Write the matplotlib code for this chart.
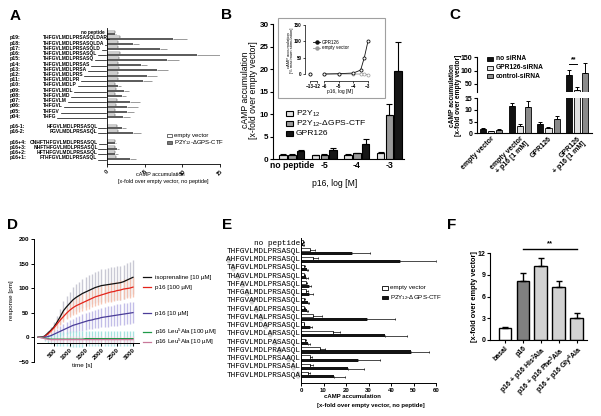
import numpy as np
import matplotlib
matplotlib.use('Agg')
import matplotlib.pyplot as plt
from matplotlib.patches import Rectangle, Ellipse
from matplotlib.transforms import blended_transform_factory as blend

W, H = 601, 416
plt.rcParams['font.family'] = ['Liberation Sans', 'DejaVu Sans']
plt.rcParams['font.weight'] = 'bold'
plt.rcParams['axes.linewidth'] = 0.8
plt.rcParams['mathtext.default'] = 'regular'

# ---------------- data ----------------
# Panel A
A_groups = [17, 2, 4]
A_names = ["", "p19:", "p18:", "p17:", "p16:", "p15:", "p14:", "p13:", "p12:", "p11:", "p10:",
           "p09:", "p08:", "p07:", "p06:", "p05:", "p04:", "p16-1:", "p16-2:",
           "p16+4:", "p16+3:", "p16+2:", "p16+1:"]
A_seqs = ["no peptide", "THFGVLMDLPRSASQLDAR", "THFGVLMDLPRSASQLDA", "THFGVLMDLPRSASQLD",
          "THFGVLMDLPRSASQL", "THFGVLMDLPRSASQ", "THFGVLMDLPRSAS", "THFGVLMDLPRSA",
          "THFGVLMDLPRS", "THFGVLMDLPR", "THFGVLMDLP", "THFGVLMDL", "THFGVLMD", "THFGVLM",
          "THFGVL", "THFGV", "THFG", "HFGVLMDLPRSASQL", "FGVLMDLPRSASQL",
          "CNHFTHFGVLMDLPRSASQL", "NHFTHFGVLMDLPRSASQL", "HFTHFGVLMDLPRSASQL", "FTHFGVLMDLPRSASQL"]
A_ev = [1.0, 1.7, 1.5, 1.5, 1.7, 1.6, 1.5, 1.6, 1.5, 1.5, 1.0, 1.2, 1.1, 1.3, 1.2, 1.1, 1.0,
        1.3, 1.4, 1.0, 1.1, 1.0, 1.2]
A_ctf = [1.0, 8.7, 3.5, 7.1, 12.0, 8.0, 4.5, 6.6, 5.3, 4.8, 1.4, 2.3, 2.0, 3.0, 2.7, 2.6, 2.1,
         2.0, 3.5, 1.0, 1.3, 1.1, 3.1]
A_ctf_err = [0.2, 1.9, 0.7, 0.8, 3.2, 1.6, 0.8, 1.5, 1.3, 1.2, 0.5, 0.6, 0.5, 1.4, 1.4, 1.0, 1.0,
             0.5, 1.0, 0.2, 0.3, 0.3, 0.8]

# Panel B
B_groups = ["no peptide", "-5", "-4", "-3"]
B_series = ["P2Y$_{12}$", "P2Y$_{12}$-$\\Delta$GPS-CTF", "GPR126"]
B_vals = [[1.0, 0.9, 1.0, 1.5], [1.0, 1.0, 1.3, 9.8], [1.8, 2.1, 3.5, 19.7]]
B_err = [[0.1, 0.1, 0.1, 0.1], [0.1, 0.1, 0.2, 2.5], [0.2, 0.4, 1.0, 6.4]]
B_colors = ["#e2e2e2", "#9a9a9a", "#161616"]
# inset
Bi_x = [-13, -6, -5, -4, -3.5, -3.25, -3]
Bi_gpr = [0, 0, 1, 3, 12, 50, 100]
Bi_ev = [0, 0, 0, 0, 0, -1, -2]

# Panel C
C_groups = ["empty vector", "empty vector\n+ p16 [1 mM]", "GPR126", "GPR126\n+ p16 [1 mM]"]
C_series = ["no siRNA", "GPR126-siRNA", "control-siRNA"]
C_vals = [[1.8, 11.5, 3.9, 82], [0.8, 3.3, 2.4, 27], [1.3, 11.2, 6.2, 91]]
C_err = [[0.6, 1.7, 0.8, 20], [0.2, 0.5, 0.4, 10], [0.4, 2.8, 1.3, 37]]
C_colors = ["#111111", "#e0e0e0", "#8a8a8a"]

# Panel D
D_time = [0, 100, 200, 300, 400, 500, 600, 700, 800, 900, 1000, 1100, 1200, 1300, 1400, 1500,
          1600, 1700, 1800, 1900, 2000, 2100, 2200, 2300, 2400, 2500, 2600, 2700, 2800, 2900, 3000]
D_iso = [0, 0, 2, 8, 14, 21, 31, 42, 54, 62, 69, 76, 81, 85, 89, 92, 95, 98, 101, 103, 105, 106,
         107, 108, 109, 110, 111, 113, 116, 119, 122]
D_iso_err = [0, 1, 2, 4, 7, 10, 13, 16, 19, 22, 24, 26, 27, 28, 29, 30, 31, 31, 32, 32, 33, 33,
             33, 34, 34, 34, 35, 35, 35, 35, 35]
D_p100 = [0, 0, 1, 6, 12, 19, 27, 35, 42, 49, 55, 60, 64, 67, 70, 73, 76, 79, 82, 84, 86, 88,
          90, 92, 93, 95, 96, 98, 99, 100, 102]
D_p100_err = [0, 1, 2, 3, 5, 7, 9, 11, 12, 13, 14, 15, 16, 16, 17, 17, 18, 18, 18, 19, 19, 19,
              19, 20, 20, 20, 20, 20, 20, 20, 20]
D_p10 = [0, 0, 0, 1, 3, 6, 9, 12, 15, 18, 21, 24, 26, 28, 30, 32, 34, 35, 37, 38, 40, 41, 42,
         43, 44, 45, 46, 47, 48, 49, 50]
D_p10_err = [0, 1, 2, 3, 4, 6, 8, 10, 11, 12, 13, 14, 15, 16, 17, 18, 18, 19, 19, 20, 20, 21,
             21, 21, 22, 22, 22, 22, 22, 22, 22]
D_l100 = [0, 0, -2, -3, -4, -4, -4, -4, -4, -4, -4, -4, -4, -4, -4, -3, -3, -3, -3, -3, -3, -3,
          -3, -3, -3, -3, -3, -3, -3, -3, -3]
D_l100_err = [0, 2, 5, 8, 10, 12, 13, 14, 15, 15, 16, 16, 16, 16, 16, 16, 16, 16, 16, 16, 16,
              16, 16, 16, 16, 16, 16, 16, 16, 16, 16]
D_l10 = [0, -1, -3, -4, -5, -5, -5, -5, -5, -5, -5, -5, -5, -5, -5, -5, -5, -5, -5, -5, -5, -5,
         -5, -5, -5, -5, -5, -5, -5, -5, -5]
D_l10_err = [0, 1, 2, 3, 4, 5, 6, 6, 7, 7, 7, 8, 8, 8, 8, 8, 8, 8, 8, 8, 8, 8, 8, 8, 8, 8, 8,
             8, 8, 8, 8]
D_labels = ["isoprenaline [10 \u00b5M]", "p16 [100 \u00b5M]", "p16 [10 \u00b5M]",
            "p16 Leu$^5$Ala [100 \u00b5M]", "p16 Leu$^5$Ala [10 \u00b5M]"]
D_colors = ["#111111", "#e3231b", "#4a3c98", "#1f9a48", "#c8789a"]
D_band = ["#c3c3d0", "#f6c0ac", "#bdb7e6", "#9fe0de", "#f1c6d8"]

# Panel E
E_seqs = ["no peptide", "THFGVLMDLPRSASQL", "AHFGVLMDLPRSASQL", "TAFGVLMDLPRSASQL",
          "THAGVLMDLPRSASQL", "THFAVLMDLPRSASQL", "THFGALMDLPRSASQL", "THFGVAMDLPRSASQL",
          "THFGVLADLPRSASQL", "THFGVLMALPRSASQL", "THFGVLMDAPRSASQL", "THFGVLMDLARSASQL",
          "THFGVLMDLPASASQL", "THFGVLMDLPRAASQL", "THFGVLMDLPRSAAQL", "THFGVLMDLPRSASAL",
          "THFGVLMDLPRSASQA"]
E_ev = [1.0, 4.1, 5.5, 1.5, 1.5, 2.0, 2.0, 1.5, 1.5, 5.5, 1.2, 14.2, 1.8, 8.4, 4.0, 4.0, 3.3]
E_ev_err = [0.3, 2.2, 2.2, 0.3, 0.3, 0.5, 1.0, 0.3, 0.3, 3.7, 0.3, 3.1, 0.4, 2.3, 1.0, 1.5, 0.7]
E_ctf = [1.0, 22.5, 44.0, 2.7, 2.4, 3.5, 3.5, 3.0, 2.5, 29.2, 4.0, 37.3, 3.0, 49.0, 25.5, 21.0, 14.5]
E_ctf_err = [0.3, 8.3, 16.0, 0.5, 0.5, 1.0, 2.0, 0.6, 0.5, 12.6, 1.0, 10.0, 1.0, 8.0, 9.5, 7.0, 5.1]

# Panel F
F_labels = ["basal", "p16", "p16 + p16 His$^2$Ala", "p16 + p16 Phe$^3$Ala", "p16 + p16 Gly$^4$Ala"]
F_vals = [1.6, 8.1, 10.2, 7.4, 3.1]
F_err = [0.2, 1.2, 1.2, 0.8, 0.7]
F_colors = ["white", "#808080", "#d2d2d2", "#d2d2d2", "#d2d2d2"]

# ---------------- figure ----------------
fig = plt.figure(figsize=(W / 100, H / 100), dpi=100)


def pax(l, t, r, b):
    return fig.add_axes([l / W, 1 - b / H, (r - l) / W, (b - t) / H])


def prism(ax, fs, lw=0.8):
    for s in ['top', 'right']:
        ax.spines[s].set_visible(False)
    for s in ['left', 'bottom']:
        ax.spines[s].set_linewidth(lw)
    ax.tick_params(direction='out', length=2.2, width=lw, labelsize=fs, pad=1.2)
    ax.patch.set_alpha(0)


# ---- Panel A ----
axA = pax(107, 28, 220, 164)
prism(axA, 4, 0.6)
slots = []
s = 0
for g in A_groups:
    for j in range(g):
        slots.append(s)
        s += 1
    s += 1
slots = np.array(slots, dtype=float)
nA = len(slots)
axA.set_ylim(25.15, -0.9)
axA.set_xlim(0, 15)
axA.barh(slots - 0.2, A_ev, height=0.38, color='white', edgecolor='#333', lw=0.35)
axA.barh(slots + 0.2, A_ctf, height=0.38, color='#5e5e5e', lw=0)
axA.errorbar(A_ctf, slots + 0.2, xerr=[np.zeros(nA), A_ctf_err], fmt='none', ecolor='#9a9a9a',
             elinewidth=0.7, capsize=0)
axA.set_yticks([])
axA.set_xticks([0, 5, 10, 15])
axA.set_xticklabels(["0", "5", "10", "15"], rotation=45, fontsize=4)

# ---- Panel B ----
axB = pax(272.7, 24.3, 404, 159.3)
prism(axB, 5.8)
axB.set_ylim(0, 30)
axB.set_xlim(-0.59, 3.45)
xb = np.arange(len(B_groups))
for k in range(3):
    off = (k - 1) * 0.27
    axB.bar(xb + off, B_vals[k], width=0.23, color=B_colors[k], edgecolor='k', lw=0.8)
    axB.errorbar(xb + off, B_vals[k], yerr=[np.zeros(4), B_err[k]], fmt='none', ecolor='k',
                 elinewidth=0.8, capsize=2, capthick=0.8)
axB.set_xticks(xb)
axB.set_xticklabels(B_groups, fontsize=6.2)
axB.set_yticks([0, 5, 10, 15, 20, 25, 30])
axB.tick_params(axis='x', length=0)
axB.tick_params(axis='y', pad=0.8)

# inset (broken x axis)
bi1 = pax(305, 25, 320, 75)
bi2 = pax(322, 25, 370, 75)
for a in (bi1, bi2):
    prism(a, 3.3, 0.5)
    a.set_ylim(-3, 150)
    a.spines['bottom'].set_position(('outward', 4))
    a.tick_params(length=1.5, pad=0.8)
bi1.set_xlim(-13.7, -11.57)
bi2.set_xlim(-6.14, -2.86)
bi1.spines['bottom'].set_bounds(-13, -12)
bi2.spines['bottom'].set_bounds(-6, -3)
bi1.spines['left'].set_bounds(0, 150)
bi1.set_yticks([0, 50, 100, 150])
bi1.set_xticks([-13, -12])
bi2.set_xticks([-6, -5, -4, -3])
bi2.spines['left'].set_visible(False)
bi2.set_yticks([])
bx = np.array(Bi_x)
for a, msk in ((bi1, bx <= -12), (bi2, bx >= -6)):
    a.plot(bx[msk], np.array(Bi_ev)[msk], '-o', color='#999999', ms=2.2, lw=0.6, mfc='white',
           mew=0.5, clip_on=False)
    a.plot(bx[msk], np.array(Bi_gpr)[msk], '-o', color='#111111', ms=2.2, lw=0.6, mfc='white',
           mew=0.6, clip_on=False)

# ---- Panel C ----
axCu = pax(477.3, 57.3, 592, 91.7)
axCl = pax(477.3, 98.3, 592, 133.3)
xc = np.arange(len(C_groups))
for a, yl in ((axCu, (21, 150)), (axCl, (0, 15))):
    prism(a, 5)
    a.set_ylim(*yl)
    a.set_xlim(-0.47, 3.51)
    for k in range(3):
        off = (k - 1) * 0.28
        a.bar(xc + off, C_vals[k], width=0.21, color=C_colors[k], edgecolor='k', lw=0.6)
        a.errorbar(xc + off, C_vals[k], yerr=[np.zeros(4), C_err[k]], fmt='none', ecolor='k',
                   elinewidth=0.7, capsize=1.5, capthick=0.7)
axCu.spines['bottom'].set_visible(False)
axCu.set_xticks([])
axCu.set_yticks([50, 100, 150])
axCl.set_yticks([0, 5, 10, 15])
axCl.set_xticks(xc)
axCl.set_xticklabels(C_groups, rotation=45, ha='right', rotation_mode='anchor', fontsize=5,
                     linespacing=1.0)
axCl.tick_params(axis='x', length=0)
axCu.plot([xc[3] - 0.28, xc[3]], [125, 125], color='k', lw=0.7)
axCu.text(xc[3] - 0.14, 127, "**", ha='center', va='bottom', fontsize=5)

# ---- Panel D ----
axD = pax(34, 239, 139.3, 361.7)
prism(axD, 4.5, 0.7)
axD.set_ylim(-50, 200)
axD.set_xlim(-133, 3200)
axD.spines['bottom'].set_position(('data', -12))
axD.spines['bottom'].set_bounds(-50, 3200)
t = np.array(D_time)
series = [(D_iso, D_iso_err), (D_p100, D_p100_err), (D_p10, D_p10_err),
          (D_l100, D_l100_err), (D_l10, D_l10_err)]
for k, (m, e) in enumerate(series):
    m = np.array(m, float)
    e = np.array(e, float)
    axD.vlines(t, m - e, m + e, color=D_band[k], lw=1.0, alpha=0.9, zorder=1)
for k, (m, e) in enumerate(series):
    axD.plot(t, m, color=D_colors[k], lw=0.9, zorder=3)
axD.set_yticks([-50, 0, 50, 100, 150, 200])
axD.set_xticks([500, 1000, 1500, 2000, 2500, 3000])
axD.set_xticklabels(["500", "1000", "1500", "2000", "2500", "3000"], rotation=45, ha='right',
                    rotation_mode='anchor', fontsize=4.5)

# ---- Panel E ----
axE = pax(301, 238, 436, 383)
prism(axE, 4.3, 0.7)
nE = len(E_seqs)
ye = np.arange(nE)
axE.set_ylim(16.96, -0.64)
axE.set_xlim(0, 60)
axE.barh(ye - 0.2, E_ev, height=0.38, color='white', edgecolor='k', lw=0.5)
axE.barh(ye + 0.2, E_ctf, height=0.38, color='#141414', lw=0)
axE.errorbar(E_ev, ye - 0.2, xerr=[np.zeros(nE), E_ev_err], fmt='none', ecolor='k',
             elinewidth=0.5, capsize=1.0, capthick=0.5)
axE.errorbar(E_ctf, ye + 0.2, xerr=[np.zeros(nE), E_ctf_err], fmt='none', ecolor='k',
             elinewidth=0.5, capsize=1.0, capthick=0.5)
axE.set_yticks([])
axE.set_xticks([0, 10, 20, 30, 40, 50, 60])

# ---- Panel F ----
axF = pax(490, 253.3, 587, 340)
prism(axF, 5.0)
axF.tick_params(axis='y', pad=0.8)
xf = np.arange(len(F_vals))
axF.set_ylim(0, 12)
axF.set_xlim(-0.84, 4.58)
axF.bar(xf, F_vals, width=0.71, color=F_colors, edgecolor='k', lw=1.0)
axF.errorbar(xf, F_vals, yerr=[np.zeros(5), F_err], fmt='none', ecolor='k', elinewidth=1.0,
             capsize=2.5, capthick=1.0)
axF.set_yticks([0, 3, 6, 9, 12])
axF.set_xticks(xf)
axF.set_xticklabels(F_labels, rotation=45, ha='right', rotation_mode='anchor', fontsize=5)
axF.plot([xf[1], xf[4]], [12.6, 12.6], color='k', lw=1.0, clip_on=False)
axF.text((xf[1] + xf[4]) / 2, 12.9, "**", ha='center', va='bottom', fontsize=5.5)

# ---------------- overlay (texts) ----------------
ov = fig.add_axes([0, 0, 1, 1])
ov.set_xlim(0, W)
ov.set_ylim(H, 0)
ov.set_autoscale_on(False)
ov.axis('off')
ov.patch.set_alpha(0)

for lab, x, y in (("A", 15.5, 15.5), ("B", 227, 15), ("C", 455, 15), ("D", 12, 225),
                  ("E", 227, 225), ("F", 452, 225)):
    ov.text(x, y, lab, fontsize=11, fontweight='bold', ha='center', va='center')

# Panel A row labels
trA = blend(ov.transData, axA.transData)
wt = A_seqs[4]
cwA = 3.3
seq_texts = []
for i, (nm, sq) in enumerate(zip(A_names, A_seqs)):
    y = slots[i]
    if i == 0:
        ov.text(105, y, sq, transform=trA, ha='right', va='center', fontsize=3.3)
        continue
    ov.text(10, y, nm, transform=trA, ha='left', va='center', fontsize=3.7)
    if 'THFG' in sq:
        offc = -sq.find('THFG')
    else:
        offc = wt.find(sq[:4])
    tx = ov.text(43.3 + offc * cwA, y, sq, transform=trA, ha='left', va='center', fontsize=3.55)
    seq_texts.append((tx, y))
fig.canvas.draw()
for tx, y in seq_texts:
    bb = tx.get_window_extent()
    ov.plot([bb.x1 + 0.5, 106], [y + 0.3, y + 0.3], transform=trA, color='k', lw=0.5)

ov.add_patch(Rectangle((167, 133.5), 5, 3.6, facecolor='white', edgecolor='#333', lw=0.5))
ov.add_patch(Rectangle((167, 140.5), 5, 3.6, facecolor='#777777', edgecolor='#333', lw=0.5))
ov.text(174, 135.3, "empty vector", fontsize=4.3, fontweight='normal', va='center')
ov.text(174, 142.3, "P2Y$_{12}$-$\\Delta$GPS-CTF", fontsize=4.3, fontweight='normal', va='center')
ov.text(160, 174, "cAMP accumulation", fontsize=4, fontweight='normal', ha='center', va='center')
ov.text(163, 181, "[x-fold over empty vector, no peptide]", fontsize=4, fontweight='normal',
        ha='center', va='center')

# Panel B texts
ov.text(245.5, 90, "cAMP accumulation", rotation=90, fontsize=6.2, fontweight='normal',
        ha='center', va='center')
ov.text(254, 90, "[x-fold over empty vector]", rotation=90, fontsize=6.2, fontweight='normal',
        ha='center', va='center')
ov.text(335, 183, "p16, log [M]", fontsize=6.2, fontweight='normal', ha='center', va='center')
for k, yy in enumerate([113.5, 123.5, 133.5]):
    ov.add_patch(Rectangle((286, yy - 2.7), 7, 5.4, facecolor=B_colors[k], edgecolor='k', lw=0.8))
    ov.text(296, yy, B_series[k], fontsize=6.1, fontweight='normal', va='center')
ov.add_patch(Rectangle((278, 18), 107, 80, facecolor='none', edgecolor='#a0a0a0', lw=0.8))
ov.text(288.5, 50, "cAMP accumulation", rotation=90, fontsize=3.0, fontweight='normal',
        ha='center', va='center')
ov.text(292.5, 50, "[% maximum stimulation]", rotation=90, fontsize=3.0, fontweight='normal',
        ha='center', va='center')
ov.text(340, 92, "p16, log [M]", fontsize=3.5, fontweight='normal', ha='center', va='center')
ov.plot([313, 320], [42.3, 42.3], color='#111', lw=0.6)
ov.plot([316.5], [42.3], 'o', color='#111', ms=2.2, mfc='#111')
ov.plot([313, 320], [47.7, 47.7], color='#999', lw=0.6)
ov.plot([316.5], [47.7], 'o', color='#999', ms=2.2, mfc='#999')
ov.text(322, 42.3, "GPR126", fontsize=3.3, fontweight='normal', va='center')
ov.text(322, 47.7, "empty vector", fontsize=3.3, fontweight='normal', va='center')

# Panel C texts
for k, yy in enumerate([59, 67.5, 76]):
    ov.add_patch(Rectangle((487, yy - 2), 6, 4, facecolor=C_colors[k], edgecolor='k', lw=0.6))
    ov.text(496, yy, C_series[k], fontsize=4.8, va='center')
ov.text(452, 95, "cAMP accumulation", rotation=90, fontsize=4.8, ha='center', va='center')
ov.text(459, 95, "[x-fold over empty vector]", rotation=90, fontsize=4.8, ha='center',
        va='center')

# Panel D texts
for k, yy in enumerate([277, 287, 313, 332, 342]):
    ov.plot([143, 151], [yy, yy], color=D_colors[k], lw=0.9)
    ov.text(155, yy, D_labels[k], fontsize=4.5, fontweight='normal', va='center')
ov.text(12, 300, "response [pm]", rotation=90, fontsize=4.5, fontweight='normal', ha='center',
        va='center')
ov.text(82, 366, "time [s]", fontsize=4.5, fontweight='normal', ha='center', va='center')

# Panel E texts
trE = blend(ov.transData, axE.transData)
cwE = 4.62
for i, sq in enumerate(E_seqs):
    ov.text(300.5, i, sq, transform=trE, ha='right', va='center', fontsize=5.6,
            family=['Liberation Mono', 'DejaVu Sans Mono'], fontweight='normal', zorder=3)
    if i >= 2:
        k = [j for j in range(len(sq)) if sq[j] != E_seqs[1][j]][0]
        xc_ = 300.5 - (len(sq) - k - 0.5) * cwE
        ov.add_patch(Ellipse((xc_, i), 5.0, 0.9, transform=trE, facecolor='#d4d4d4',
                             edgecolor='none', zorder=1))
ov.add_patch(Rectangle((381.7, 286), 6, 3.5, facecolor='white', edgecolor='k', lw=0.6))
ov.add_patch(Rectangle((381.7, 295.5), 6, 3.5, facecolor='#141414', edgecolor='k', lw=0.6))
ov.text(390, 287.7, "empty vector", fontsize=4.5, fontweight='normal', va='center')
ov.text(390, 297.3, "P2Y$_{12}$-$\\Delta$GPS-CTF", fontsize=4.5, fontweight='normal', va='center')
ov.text(352, 397, "cAMP accumulation", fontsize=4.3, ha='center', va='center')
ov.text(371, 406, "[x-fold over empty vector, no peptide]", fontsize=4.3, ha='center',
        va='center')

# Panel F texts
ov.text(474, 297, "[x-fold over empty vector]", rotation=90, fontsize=5.3, ha='center',
        va='center')

fig.savefig("out.png", dpi=100)
